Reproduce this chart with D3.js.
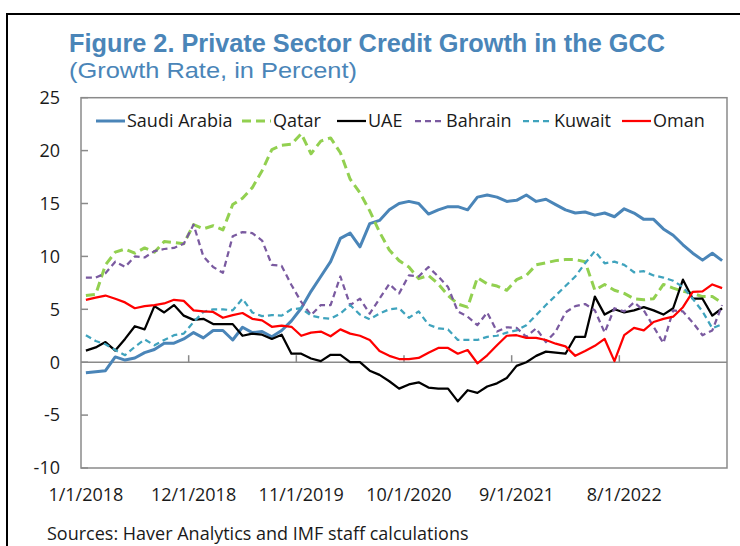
<!DOCTYPE html>
<meta charset="utf-8">
<script src="https://d3js.org/d3.v7.min.js"></script>
<style>
  body { margin: 0; background: #fff; }
  text { font-family: "Open Sans", "Noto Sans", sans-serif; fill: #1a1a1a; }
</style>
<svg id="chart" width="740" height="546"></svg>
<script>
// monthly, Jan 2018 - Jun 2023
var months = d3.timeMonth.range(new Date(2018, 0, 1), new Date(2023, 6, 1));
var tickLabels = ["1/1/2018", "12/1/2018", "11/1/2019", "10/1/2020", "9/1/2021", "8/1/2022"];
var yTicks = [-10, -5, 0, 5, 10, 15, 20, 25];
var names = ["Saudi Arabia", "Qatar", "UAE", "Bahrain", "Kuwait", "Oman"];

var saudi = [-1.0, -0.9, -0.8, 0.5, 0.2, 0.4, 0.9, 1.2, 1.8, 1.8, 2.2, 2.8, 2.3, 3.0, 3.0, 2.1,
  3.3, 2.8, 2.9, 2.4, 3.0, 3.9, 5.1, 6.7, 8.1, 9.5, 11.7, 12.2, 10.9, 13.1, 13.4, 14.4,
  15.0, 15.2, 15.0, 14.0, 14.4, 14.7, 14.7, 14.4, 15.6, 15.8, 15.6, 15.2, 15.3, 15.8, 15.2, 15.4,
  14.9, 14.4, 14.1, 14.2, 13.9, 14.1, 13.75, 14.5, 14.1, 13.5, 13.5, 12.6, 12.0, 11.1, 10.3, 9.65,
  10.3, 9.6];
var qatar = [6.3, 6.4, 9.2, 10.4, 10.7, 10.3, 10.8, 10.4, 11.4, 11.3, 11.2, 13.0, 12.6, 12.9, 12.5, 14.9,
  15.5, 16.5, 18.1, 20.1, 20.5, 20.6, 21.6, 19.7, 20.9, 21.2, 19.8, 17.3, 16.0, 14.3, 12.3, 10.6,
  9.6, 9.0, 7.9, 8.2, 7.4, 6.3, 5.5, 5.2, 8.0, 7.4, 7.2, 6.8, 7.8, 8.2, 9.2, 9.4,
  9.6, 9.7, 9.7, 9.5, 6.8, 7.35, 6.8, 6.5, 6.0, 5.9, 6.0, 7.35, 7.0, 6.7, 6.5, 6.2,
  6.2, 5.6];
var uae = [1.1, 1.4, 1.9, 1.1, 2.2, 3.4, 3.1, 5.3, 4.7, 5.4, 4.4, 4.0, 4.1, 3.6, 3.6, 3.6,
  2.5, 2.7, 2.6, 2.2, 2.6, 0.8, 0.8, 0.35, 0.1, 0.7, 0.7, 0.0, 0.0, -0.8, -1.2, -1.8,
  -2.5, -2.1, -1.9, -2.4, -2.5, -2.5, -3.7, -2.65, -2.9, -2.3, -2.0, -1.5, -0.35, 0.0, 0.6, 1.0,
  0.9, 0.8, 2.4, 2.4, 6.2, 4.5, 5.0, 4.7, 4.9, 5.2, 4.9, 4.5, 5.1, 7.8, 6.0, 6.0,
  4.4, 5.1];
var bahrain = [8.0, 8.0, 8.4, 9.5, 9.0, 10.0, 9.9, 10.5, 10.7, 10.8, 11.2, 13.0, 10.0, 9.0, 8.45, 11.9,
  12.3, 12.2, 11.5, 9.2, 9.1, 7.3, 5.7, 4.45, 5.4, 5.4, 8.1, 5.4, 6.0, 4.6, 6.0, 7.4,
  6.5, 8.2, 8.1, 9.0, 8.1, 7.1, 4.8, 4.3, 3.5, 4.7, 2.9, 3.3, 3.25, 2.4, 3.2, 1.9,
  2.9, 4.7, 5.3, 5.5, 4.9, 2.8, 5.1, 4.8, 5.65, 4.9, 3.35, 1.8, 4.9, 4.8, 3.75, 2.55,
  3.0, 5.4];
var kuwait = [2.55, 2.0, 1.7, 1.15, 0.66, 1.45, 2.15, 1.6, 2.1, 2.55, 2.7, 3.8, 4.75, 5.0, 5.0, 4.9,
  6.0, 4.7, 4.35, 4.45, 4.4, 5.0, 5.1, 4.4, 4.2, 4.1, 4.6, 5.4, 4.5, 4.05, 4.6, 5.0,
  5.1, 4.2, 4.8, 3.55, 3.2, 3.1, 2.1, 2.1, 2.1, 2.4, 2.5, 2.8, 3.0, 3.5, 4.45, 5.4,
  6.3, 7.2, 8.1, 9.35, 10.5, 9.35, 9.5, 9.2, 8.5, 8.6, 8.2, 8.0, 7.7, 7.1, 6.0, 4.8,
  3.2, 3.6];
var oman = [5.9, 6.1, 6.3, 6.0, 5.65, 5.1, 5.3, 5.4, 5.55, 5.9, 5.8, 4.9, 4.8, 4.75, 4.2, 4.45,
  4.65, 4.1, 3.95, 3.35, 3.45, 3.35, 2.5, 2.8, 2.9, 2.45, 3.1, 2.7, 2.5, 2.1, 1.05, 0.6,
  0.3, 0.3, 0.4, 0.9, 1.35, 1.35, 0.8, 1.15, -0.1, 0.65, 1.6, 2.5, 2.55, 2.3, 2.3, 2.1,
  1.75, 1.5, 0.6, 1.05, 1.55, 2.2, 0.1, 2.55, 3.25, 3.0, 3.8, 4.1, 4.3, 5.2, 6.65, 6.7,
  7.35, 7.0];

var series = [
  {name: names[0], values: saudi,   color: "#4a85b8", width: 3,    dash: null},
  {name: names[1], values: qatar,   color: "#92d050", width: 3,    dash: "9,5"},
  {name: names[2], values: uae,     color: "#000000", width: 2.25, dash: null},
  {name: names[3], values: bahrain, color: "#7a5aa0", width: 2.25, dash: "6,4"},
  {name: names[4], values: kuwait,  color: "#3fa3bd", width: 2.25, dash: "6,4"},
  {name: names[5], values: oman,    color: "#ff0000", width: 2.25, dash: null}
];

var svg = d3.select("#chart");
var fmt = d3.timeFormat("%-m/%-d/%Y");

var x = d3.scaleBand().domain(months).range([81, 727]).padding(0);
var y = d3.scaleLinear().domain([-10, 25]).range([468, 97.7]);
var xc = function(i) { return x(months[i]) + x.bandwidth() / 2; };

// outer frame of the page box
svg.append("path")
    .attr("d", "M7,546V14H742")
    .attr("fill", "none")
    .attr("stroke", "#000")
    .attr("stroke-width", 2);

// titles
svg.append("text")
    .attr("x", 69).attr("y", 52)
    .attr("textLength", 596).attr("lengthAdjust", "spacingAndGlyphs")
    .style("font-family", "'Liberation Sans Narrow', 'Arial Narrow', 'Liberation Sans', sans-serif")
    .style("font-weight", "bold").style("font-size", "26px")
    .style("fill", "#4a85b8")
    .text("Figure 2. Private Sector Credit Growth in the GCC");
svg.append("text")
    .attr("x", 69).attr("y", 78)
    .attr("textLength", 288).attr("lengthAdjust", "spacingAndGlyphs")
    .style("font-family", "'Liberation Sans Narrow', 'Arial Narrow', 'Liberation Sans', sans-serif")
    .style("font-size", "22px")
    .style("fill", "#4a85b8")
    .text("(Growth Rate, in Percent)");

// plot box
svg.append("rect")
    .attr("x", 81).attr("y", y(25))
    .attr("width", 727 - 81).attr("height", y(-10) - y(25))
    .attr("fill", "none").attr("stroke", "#8a8a8a").attr("stroke-width", 1.5);

// y axis ticks (inside) and labels
svg.append("g").selectAll("line").data(yTicks).enter().append("line")
    .attr("x1", 81).attr("x2", 88)
    .attr("y1", function(d) { return y(d); }).attr("y2", function(d) { return y(d); })
    .attr("stroke", "#8a8a8a").attr("stroke-width", 1.5);
svg.append("g").selectAll("text").data(yTicks).enter().append("text")
    .attr("x", 60).attr("y", function(d) { return y(d); })
    .attr("dy", "0.35em").attr("text-anchor", "end")
    .style("font-size", "18px")
    .text(function(d) { return d; });

// zero line with category ticks
svg.append("line")
    .attr("x1", 81).attr("x2", 727).attr("y1", y(0)).attr("y2", y(0))
    .attr("stroke", "#8a8a8a").attr("stroke-width", 1.5);
var tickDates = months.filter(function(d) { return tickLabels.indexOf(fmt(d)) >= 0; });
svg.append("g").selectAll("line").data(tickDates.slice(1)).enter().append("line")
    .attr("x1", function(d) { return x(d); }).attr("x2", function(d) { return x(d); })
    .attr("y1", y(0)).attr("y2", y(0) - 7)
    .attr("stroke", "#8a8a8a").attr("stroke-width", 1.5);
svg.append("g").selectAll("text").data(tickDates).enter().append("text")
    .attr("x", function(d) { return x(d) + x.bandwidth() / 2; })
    .attr("y", 501).attr("text-anchor", "middle")
    .style("font-size", "18px")
    .text(function(d) { return fmt(d); });

// lines
var line = d3.line()
    .x(function(d, i) { return xc(i); })
    .y(function(d) { return y(d); });
svg.append("g").selectAll("path").data(series).enter().append("path")
    .attr("d", function(s) { return line(s.values); })
    .attr("fill", "none")
    .attr("stroke", function(s) { return s.color; })
    .attr("stroke-width", function(s) { return s.width; })
    .attr("stroke-dasharray", function(s) { return s.dash; })
    .attr("stroke-linejoin", "round");

// legend, sample starts as laid out in the original
var legendX = [96, 242, 337, 415, 523, 622], ly = 121;
series.forEach(function(s, i) {
  var lx = legendX[i];
  svg.append("line")
      .attr("x1", lx).attr("x2", lx + 29).attr("y1", ly).attr("y2", ly)
      .attr("stroke", s.color).attr("stroke-width", s.width)
      .attr("stroke-dasharray", s.dash);
  svg.append("text")
      .attr("x", lx + 31).attr("y", ly).attr("dy", "0.35em")
      .style("font-size", "18px")
      .text(s.name);
});

// source note
svg.append("text")
    .attr("x", 47).attr("y", 540)
    .style("font-size", "18px")
    .text("Sources: Haver Analytics and IMF staff calculations");
</script>
